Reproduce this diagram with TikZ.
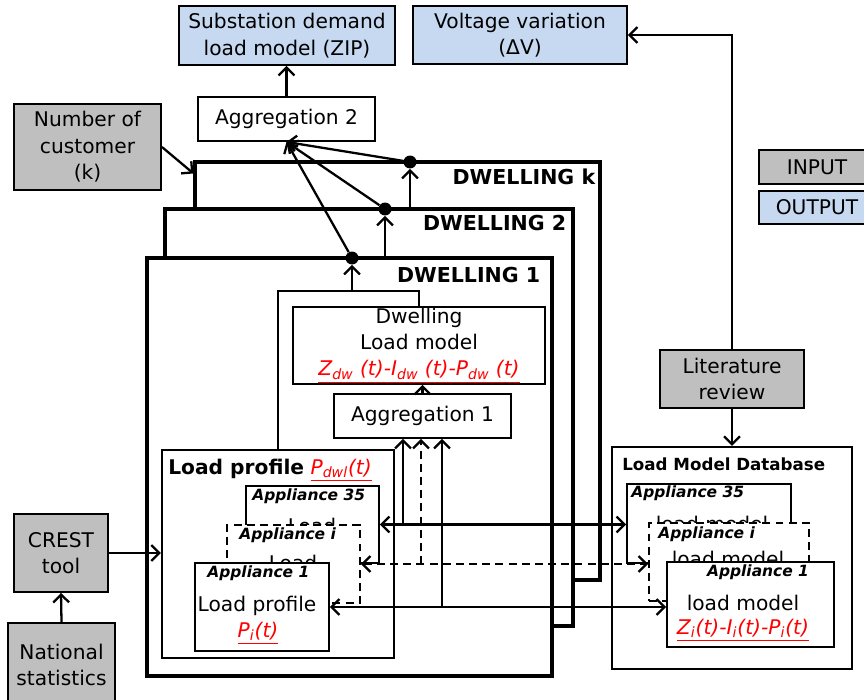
\documentclass[tikz,border=0pt]{standalone}
\usepackage{fontspec}
\setmainfont{DejaVu Sans}
\usetikzlibrary{arrows.meta,calc}
\definecolor{ingray}{HTML}{BFBFBF}
\definecolor{outblue}{HTML}{C6D9F1}
\newcommand{\redf}[1]{\textcolor{red}{\underline{\itshape #1}}}
\newcommand{\apptitle}[1]{{\fontsize{8.8}{10}\selectfont\bfseries\itshape #1}}
\tikzset{
    blk/.style={rectangle,draw,line width=1.1pt,align=center,inner sep=0pt,font=\fontsize{11.5}{15}\selectfont},
    inbox/.style={blk,fill=ingray},
    outbox/.style={blk,fill=outblue},
    wbox/.style={blk,fill=white},
    dbox/.style={wbox,dash pattern=on 4.5pt off 3pt},
    dwframe/.style={rectangle,draw,fill=white,line width=1.8pt,inner sep=0pt},
    txt/.style={inner sep=0pt,font=\fontsize{11.5}{15}\selectfont},
    dwlab/.style={txt,anchor=north east,font=\fontsize{11.7}{14}\selectfont\bfseries},
    bigdot/.style={circle,fill,inner sep=0pt,minimum size=0.26cm},
    conn/.style={line width=1.3pt},
    edge/.style={conn,->,> = {Straight Barb[length=4.5pt,width=9pt]}},
    dedge/.style={edge,<->}
}

\begin{document}
\begin{tikzpicture}[x=0.02cm,y=-0.02cm]
\useasboundingbox (0,0) rectangle (864,699);

\node[outbox,minimum width=4.32cm,minimum height=1.18cm] (subst) at (287,35.5) {Substation demand\\load model (ZIP)};
\node[outbox,minimum width=4.28cm,minimum height=1.16cm] (volt) at (520,35) {Voltage variation\\(ΔV)};
\node[wbox,minimum width=3.54cm,minimum height=0.88cm] (agg2) at (286.5,119) {Aggregation 2};
\node[inbox,minimum width=2.94cm,minimum height=1.72cm] (ncust) at (87.5,147) {Number of\\customer\\(k)};

\node[inbox,minimum width=2.32cm,minimum height=0.68cm] (input) at (817,167) {INPUT};
\node[outbox,minimum width=2.32cm,minimum height=0.66cm] (output) at (817,207.5) {OUTPUT};

\node[dwframe,minimum width=8.1cm,minimum height=8.36cm] (dwk) at (397.5,371) {};
\node[dwlab] (dwklab) at ($(dwk.north east)+(-6,8)$) {DWELLING k};
\node[dwframe,minimum width=8.16cm,minimum height=8.34cm] (dw2) at (369,417.5) {};
\node[dwlab] (dw2lab) at ($(dw2.north east)+(-8,7)$) {DWELLING 2};
\node[dwframe,minimum width=8.1cm,minimum height=8.36cm] (dw1) at (349.5,467) {};
\node[dwlab] (dw1lab) at ($(dw1.north east)+(-13,10)$) {DWELLING 1};

\node[bigdot] (dotk) at (410,162) {};
\node[bigdot] (dot2) at (385,209) {};
\node[bigdot] (dot1) at (352,258) {};

\node[wbox,minimum width=5.04cm,minimum height=1.54cm] (dwlm) at (419,345.5) {Dwelling\\Load model\\\redf{Z\textsubscript{dw} (t)-I\textsubscript{dw} (t)-P\textsubscript{dw} (t)}};
\node[wbox,minimum width=3.54cm,minimum height=0.88cm] (agg1) at (422.5,416) {Aggregation 1};

\node[dwframe,line width=1.4pt,minimum width=4.64cm,minimum height=4.16cm] (lprof) at (278,554) {};
\node[txt,anchor=west] (lproflab) at (168,470) {{\bfseries Load profile} \redf{P\textsubscript{dwl}(t)}};
\node[wbox,minimum width=2.66cm,minimum height=1.54cm] (app35) at (312.5,524.5) {};
\node[txt,anchor=west] (app35t) at (252,496) {\apptitle{Appliance 35}};
\node[txt,anchor=north] (app35l) at (312,518) {Load};
\node[dbox,minimum width=2.66cm,minimum height=1.56cm] (appi) at (293.5,564) {};
\node[txt,anchor=west] (appit) at (239,535) {\apptitle{Appliance i}};
\node[txt,anchor=north] (appil) at (293,555) {Load};
\node[wbox,minimum width=2.68cm,minimum height=1.76cm] (app1) at (262,607) {};
\node[txt,anchor=west] (app1t) at (207,573) {\apptitle{Appliance 1}};
\node[txt] (app1l) at (257,606) {Load profile};
\node[txt] (app1f) at (258,633) {\redf{P\textsubscript{i}(t)}};

\node[inbox,minimum width=2.88cm,minimum height=1.16cm] (litrev) at (732,379) {Literature\\review};
\node[dwframe,line width=1.4pt,minimum width=4.8cm,minimum height=4.44cm] (lmdb) at (732,558) {};
\node[txt,anchor=west,font=\fontsize{9.5}{11}\selectfont\bfseries] (lmdblab) at (622,464) {Load Model Database};
\node[wbox,minimum width=3.28cm,minimum height=1.58cm] (db35) at (709,523.5) {};
\node[txt,anchor=west] (db35t) at (631,493) {\apptitle{Appliance 35}};
\node[txt,anchor=north] (db35l) at (712,516) {load model};
\node[dbox,minimum width=3.2cm,minimum height=1.56cm] (dbi) at (729,562) {};
\node[txt,anchor=west] (dbit) at (658,534) {\apptitle{Appliance i}};
\node[txt,anchor=north] (dbil) at (728,551) {load model};
\node[wbox,minimum width=3.34cm,minimum height=1.7cm] (db1) at (750.5,604.5) {};
\node[txt] (db1t) at (758,572) {\apptitle{Appliance 1}};
\node[txt] (db1l) at (743,603) {load model};
\node[txt] (db1f) at (743,630) {\redf{Z\textsubscript{i}(t)-I\textsubscript{i}(t)-P\textsubscript{i}(t)}};

\node[inbox,minimum width=1.88cm,minimum height=1.56cm] (crest) at (61,553) {CREST\\tool};
\node[inbox,minimum width=2.14cm,minimum height=1.68cm] (natstat) at (61.5,665) {National\\statistics};

\coordinate (nk) at ($(dwk.north west)+(0,13)$);
\coordinate (jl) at (278,291);
\coordinate (va) at (403,0);
\coordinate (vb) at (421,0);
\coordinate (vc) at (442,0);

\draw[edge] (agg2.north) -- (agg2.north |- subst.south);
\draw[edge] (ncust.east) -- (nk);
\draw[edge] (dw2.north -| dotk) -- (dotk);
\draw[edge] (dw1.north -| dot2) -- (dot2);
\draw[edge] (dot1 |- jl) -- (dot1);
\draw[edge] (dotk) -- (agg2.south);
\draw[edge] (dot2) -- (agg2.south);
\draw[edge] (dot1) -- (agg2.south);

\draw[conn] (lprof.north -| jl) -- (jl) -- (jl -| dwlm.north) -- (dwlm.north);
\draw[edge] (agg1.north) -- (agg1.north |- dwlm.south);

\draw[dedge] (app35.east) -- (app35.east -| db35.west);
\draw[dedge,dash pattern=on 4.5pt off 3pt] (appi.east) -- (appi.east -| dbi.west);
\draw[dedge] (app1.east) -- (app1.east -| db1.west);
\draw[edge] (app35.east -| va) -- (agg1.south -| va);
\draw[edge,dash pattern=on 4.5pt off 3pt] (appi.east -| vb) -- (agg1.south -| vb);
\draw[edge] (app1.east -| vc) -- (agg1.south -| vc);

\draw[edge] (litrev.north) |- (volt.east);
\draw[edge] (litrev.south) -- (lmdb.north);
\draw[edge] (natstat.north) -- (crest.south);
\draw[edge] (crest.east) -- (crest.east -| lprof.west);

\end{tikzpicture}
\end{document}
